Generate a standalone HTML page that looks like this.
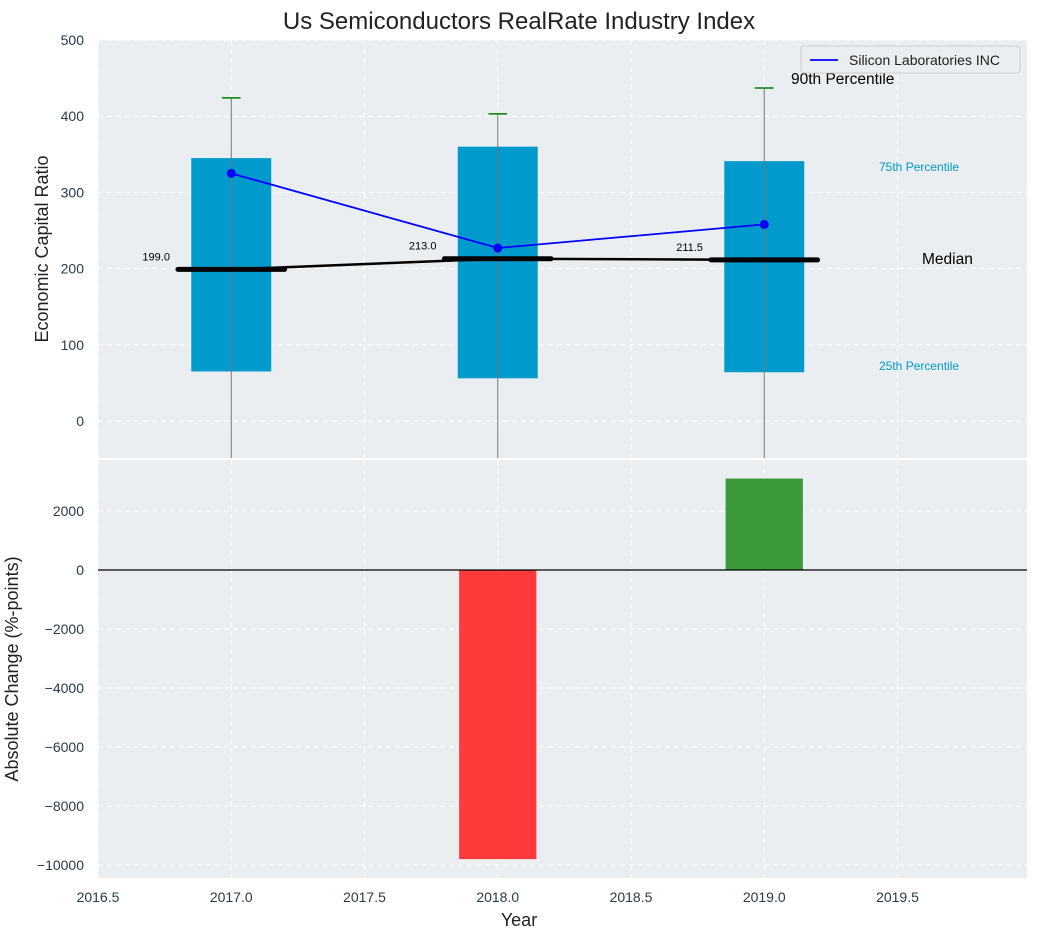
<!DOCTYPE html>
<html><head><meta charset="utf-8"><style>
body{margin:0;background:#fff;font-family:"Liberation Sans",sans-serif}
svg text{font-family:"Liberation Sans",sans-serif}
</style></head><body>
<svg id="c" width="1038" height="940" xmlns="http://www.w3.org/2000/svg">
<text x="519" y="29" text-anchor="middle" font-size="24" fill="#222">Us Semiconductors RealRate Industry Index</text>
<g id="topPanel"></g>
<g id="botPanel"></g>
</svg>
<script>
const years=[2017,2018,2019];
const q25=[65,56,64];
const q75=[345,360,341];
const medians=[199,213,211.5];
const p90=[424,403,437];
const p10=[-150,-150,-150];
const company=[325,227,258];
const changeYears=[2018,2019];
const changes=[-9800,3100];
const xTicks=[2016.5,2017,2017.5,2018,2018.5,2019,2019.5];
const yTopTicks=[0,100,200,300,400,500];
const yBotTicks=[-10000,-8000,-6000,-4000,-2000,0,2000];

const NS="http://www.w3.org/2000/svg";
const L=98,R=1027;
const X=v=>L+(v-2016.5)*266.5;
const TT=40,TB=458,BT=460,BB=878;
const YT=v=>421-v*0.762;
const YB=v=>570-v*0.0295;
const fmt=v=>(v<0?'\u2212':'')+Math.abs(v);
function el(p,t,a,txt){const e=document.createElementNS(NS,t);for(const k in a)e.setAttribute(k,a[k]);if(txt!==undefined)e.textContent=txt;p.appendChild(e);return e;}
const topG=document.getElementById('topPanel'),botG=document.getElementById('botPanel');
let bg=el(topG,'rect',{x:L,y:TT,width:R-L,height:TB-TT,fill:'#eaeef0'});


bg=el(botG,'rect',{x:L,y:BT,width:R-L,height:BB-BT,fill:'#eaeef0'});


const grid={stroke:'#fff','stroke-dasharray':'5,4','stroke-width':1};
xTicks.forEach(t=>{
 el(topG,'line',Object.assign({x1:X(t),x2:X(t),y1:TT,y2:TB},grid));
 el(botG,'line',Object.assign({x1:X(t),x2:X(t),y1:BT,y2:BB},grid));
 const tx=el(botG,'text',{x:X(t),y:902,'text-anchor':'middle','font-size':14,fill:'#2a3a4a'},t.toFixed(1));
 
 
});
yTopTicks.forEach(t=>{
 el(topG,'line',Object.assign({x1:L,x2:R,y1:YT(t),y2:YT(t)},grid));
 const tx=el(topG,'text',{x:84,y:YT(t)+5,'text-anchor':'end','font-size':14,fill:'#2a3a4a'},fmt(t));
 
 
});
yBotTicks.forEach(t=>{
 el(botG,'line',Object.assign({x1:L,x2:R,y1:YB(t),y2:YB(t)},grid));
 const tx=el(botG,'text',{x:84,y:YB(t)+5,'text-anchor':'end','font-size':14,fill:'#2a3a4a'},fmt(t));
 
 
});
const clip=el(topG,'clipPath',{id:'ct'});el(clip,'rect',{x:L,y:TT,width:R-L,height:TB-TT});
const g=el(topG,'g',{'clip-path':'url(#ct)'});
years.forEach((y,i)=>{
 const b=el(g,'rect',{x:X(y-0.15),y:YT(q75[i]),width:X(y+0.15)-X(y-0.15),height:YT(q25[i])-YT(q75[i]),fill:'#009acd'});
 
 
 const w=el(g,'line',{x1:X(y),x2:X(y),y1:YT(p90[i]),y2:YT(p10[i]),stroke:'#777','stroke-width':1});
 
 
 el(g,'line',{x1:X(y-0.035),x2:X(y+0.035),y1:YT(p90[i]),y2:YT(p90[i]),stroke:'green','stroke-width':1.5});
 const m=el(g,'line',{x1:X(y-0.2),x2:X(y+0.2),y1:YT(medians[i]),y2:YT(medians[i]),stroke:'#000','stroke-width':5,'stroke-linecap':'round'});
 
 
 const t=el(g,'text',{x:X(y-0.2)-8,y:YT(medians[i])-9,'text-anchor':'end','font-size':11,fill:'#000'},medians[i].toFixed(1));
 
 
});
let ml=el(g,'polyline',{points:years.map((y,i)=>X(y)+','+YT(medians[i])).join(' '),fill:'none',stroke:'#000','stroke-width':2.5});


let cl=el(g,'polyline',{points:years.map((y,i)=>X(y)+','+YT(company[i])).join(' '),fill:'none',stroke:'#0000ff','stroke-width':1.8});


years.forEach((y,i)=>{const c=el(g,'circle',{cx:X(y),cy:YT(company[i]),r:4.5,fill:'#0000ff'});
 
 });
const ann=[[791,84,'90th Percentile',15.5,'#000'],[879,171,'75th Percentile',12,'#009acd'],[922,264,'Median',15.5,'#000'],[879,370,'25th Percentile',12,'#009acd']];
ann.forEach(a=>{const t=el(topG,'text',{x:a[0],y:a[1],'font-size':a[3],fill:a[4]},a[2]);
 
 });
const lg=el(topG,'g',{});


el(lg,'rect',{x:801,y:46,width:219,height:27,fill:'#eaeef0',stroke:'#ccc',rx:3});
el(lg,'line',{x1:810,x2:838,y1:60,y2:60,stroke:'#0000ff','stroke-width':1.8});
el(lg,'text',{x:849,y:65,'font-size':14,fill:'#222'},'Silicon Laboratories INC');
changeYears.forEach((y,i)=>{const v=changes[i];
 const b=el(botG,'rect',{x:X(y-0.145),y:Math.min(YB(v),YB(0)),width:X(y+0.145)-X(y-0.145),height:Math.abs(YB(v)-YB(0)),fill:v<0?'#ff3a3a':'#3a9a3a'});
 
 });
el(botG,'line',{x1:L,x2:R,y1:YB(0),y2:YB(0),stroke:'#000','stroke-width':1.2});
let t=el(botG,'text',{x:519,y:926,'text-anchor':'middle','font-size':18,fill:'#222'},'Year');


t=el(topG,'text',{x:48,y:249,'text-anchor':'middle','font-size':18,fill:'#222',transform:'rotate(-90 48 249)'},'Economic Capital Ratio');


t=el(botG,'text',{x:18,y:669,'text-anchor':'middle','font-size':18,fill:'#222',transform:'rotate(-90 18 669)'},'Absolute Change (%-points)');


</script>
</body></html>
